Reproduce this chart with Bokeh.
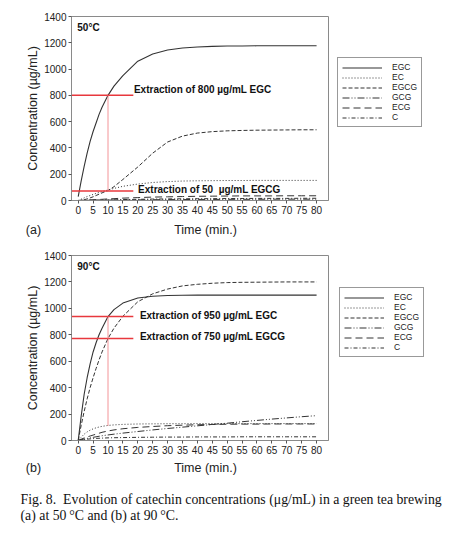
from bokeh.plotting import figure
from bokeh.models import (Range1d, FixedTicker, Legend, LegendItem, Label)
from bokeh.layouts import column, row
from bokeh.embed import file_html
from bokeh.resources import INLINE

# ---------------- data ----------------
T = [0, 1, 2, 3, 4, 5, 6, 7, 8, 10, 12, 15, 20, 25, 30, 35, 40, 45, 50, 55, 60, 65, 70, 75, 80]

# 50 C
EGC_a = [30, 150, 260, 360, 450, 525, 590, 655, 710, 800, 870, 950, 1060, 1115, 1145, 1160, 1168, 1173, 1175, 1176, 1177, 1177, 1177, 1177, 1177]
EC_a = [0, 10, 20, 30, 38, 46, 54, 61, 68, 80, 92, 108, 125, 137, 144, 148, 150, 151, 152, 152, 153, 153, 153, 153, 153]
EGCG_a = [0, 2, 6, 12, 20, 28, 38, 48, 58, 76, 105, 160, 255, 360, 445, 490, 513, 524, 530, 533, 535, 536, 537, 538, 538]
GCG_a = [0, 0, 1, 1, 1, 2, 2, 2, 3, 3, 4, 4, 5, 6, 7, 7, 8, 8, 9, 9, 9, 10, 10, 10, 10]
ECG_a = [0, 1, 2, 3, 5, 6, 7, 8, 9, 12, 14, 18, 22, 26, 28, 30, 32, 33, 34, 35, 35, 35, 36, 36, 36]
C_a = [0, 0, 1, 1, 2, 2, 3, 3, 3, 4, 5, 7, 9, 11, 12, 13, 14, 14, 15, 15, 16, 16, 16, 17, 17]

# 90 C
EGC_b = [0, 185, 350, 475, 580, 670, 740, 800, 850, 938, 990, 1040, 1078, 1092, 1097, 1099, 1100, 1100, 1100, 1100, 1100, 1100, 1100, 1100, 1100]
EC_b = [0, 25, 48, 65, 78, 88, 96, 102, 107, 114, 118, 122, 125, 126, 127, 127, 128, 128, 128, 128, 128, 128, 128, 128, 128]
EGCG_b = [0, 115, 220, 315, 400, 475, 545, 610, 670, 772, 850, 940, 1050, 1110, 1146, 1170, 1182, 1190, 1195, 1197, 1198, 1199, 1200, 1200, 1200]
GCG_b = [0, 6, 11, 16, 20, 24, 28, 32, 36, 42, 48, 56, 68, 80, 91, 101, 111, 121, 131, 142, 152, 162, 171, 180, 188]
ECG_b = [0, 10, 19, 27, 34, 41, 48, 55, 62, 72, 80, 89, 99, 106, 112, 116, 119, 121, 123, 124, 124, 125, 125, 125, 125]
C_b = [0, 4, 7, 10, 12, 14, 16, 17, 18, 20, 21, 22, 24, 25, 26, 26, 27, 27, 27, 28, 28, 28, 28, 28, 28]

series_names = ["EGC", "EC", "EGCG", "GCG", "ECG", "C"]
x_ticks = list(range(0, 81, 5))
y_ticks = list(range(0, 1401, 200))

# extraction markers
extract_time = 10
extract_end = 18.5
levels_a = [800, 72]
labels_a = ["Extraction of 800 \u00b5g/mL EGC", "Extraction of 50\u00a0 \u00b5g/mL EGCG"]
label_x_a = [18.7, 20.1]
label_y_a = [848, 86]
levels_b = [938, 772]
labels_b = ["Extraction of 950 \u00b5g/mL EGC", "Extraction of 750 \u00b5g/mL EGCG"]
label_x_b = [20.7, 20.7]
label_y_b = [948, 784]
vline_a = [72, 800]
vline_b = [110, 938]

caption = ["Fig. 8.\u00a0 Evolution of catechin concentrations (\u03bcg/mL) in a green tea brewing",
           "(a) at 50\u2009\u00b0C and (b) at 90\u2009\u00b0C."]

# ---------------- style ----------------
SANS = "Liberation Sans"
SERIF = "Liberation Serif"
LINE_COLOR = "#333333"
RED = "#e8383d"
dashes = ["solid", "1 2", "4 2", "7 2 1 2 1 2", "7 4", "4 2 1 2"]
widths = [1.1, 1.0, 1.0, 1.0, 1.0, 1.0]
X0, X1 = -2.25, 84.0
MAIN_W = 335
LEG_W = 110
TOTAL_W = 450


def make_panel(height, top, bottom, data, levels, texts, text_xs, text_ys, vline, temp):
    p = figure(width=MAIN_W, height=height, output_backend="svg", toolbar_location=None,
               x_range=Range1d(X0, X1), y_range=Range1d(0, 1400),
               min_border_left=71, min_border_right=MAIN_W - 71 - 257,
               min_border_top=top, min_border_bottom=bottom)
    p.xgrid.visible = False
    p.ygrid.visible = False
    p.outline_line_color = "#8a8a8a"
    p.outline_line_width = 1
    p.background_fill_color = "white"
    p.border_fill_color = "white"

    for ax in (p.xaxis[0], p.yaxis[0]):
        ax.axis_line_color = "#8a8a8a"
        ax.major_tick_line_color = "#555555"
        ax.minor_tick_line_color = None
        ax.major_tick_in = 0
        ax.major_tick_out = 3
        ax.major_label_text_font = SANS
        ax.major_label_text_font_size = "10px"
        ax.major_label_text_color = "#222222"
        ax.axis_label_text_font = SANS
        ax.axis_label_text_font_size = "12.5px"
        ax.axis_label_text_font_style = "normal"
        ax.axis_label_text_color = "#222222"
        ax.major_label_standoff = 2
    p.xaxis.ticker = FixedTicker(ticks=x_ticks)
    p.yaxis.ticker = FixedTicker(ticks=y_ticks)
    p.yaxis.axis_label = "Concentration (\u00b5g/mL)"
    p.yaxis.axis_label_standoff = 1

    for name, ys, dash, w in zip(series_names, data, dashes, widths):
        p.line(T, ys, line_color=LINE_COLOR, line_width=w, line_dash=dash)

    # red extraction guides
    p.segment(x0=[X0] * len(levels), y0=levels, x1=[extract_end] * len(levels), y1=levels,
              line_color=RED, line_width=1.5)
    p.segment(x0=[extract_time], y0=[vline[0]], x1=[extract_time], y1=[vline[1]],
              line_color="#f07a7e", line_width=0.8)

    for txt, tx, ty in zip(texts, text_xs, text_ys):
        p.add_layout(Label(x=tx, y=ty, text=txt, text_font=SANS,
                           text_font_size="10px", text_font_style="bold",
                           text_baseline="middle", text_align="left", text_color="#111111"))
    p.add_layout(Label(x=-0.3, y=1318, text=temp, text_font=SANS, text_font_size="10px",
                       text_font_style="bold", text_baseline="middle", text_align="left",
                       text_color="#111111"))
    return p


def blank(width, height, xr=None, yr=None):
    f = figure(width=width, height=height, output_backend="svg", toolbar_location=None,
               x_range=xr if xr is not None else Range1d(0, width),
               y_range=yr if yr is not None else Range1d(height, 0),
               x_axis_type=None, y_axis_type=None,
               min_border_left=0, min_border_right=0, min_border_top=0, min_border_bottom=0)
    f.xgrid.visible = False
    f.ygrid.visible = False
    f.outline_line_color = None
    f.background_fill_color = "white"
    f.border_fill_color = "white"
    return f


def make_legend_fig(height, vx, vy, data):
    # series are drawn here only to carry legend glyphs; the ranges keep them out of view
    f = blank(LEG_W, height, xr=Range1d(1000, 1100), yr=Range1d(5000, 6000))
    items = []
    for name, ys, dash, w in zip(series_names, data, dashes, widths):
        r = f.line(T, ys, line_color=LINE_COLOR, line_width=w, line_dash=dash)
        items.append(LegendItem(label=name, renderers=[r]))
    leg = Legend(items=items, location=(vx, vy), orientation="vertical")
    leg.label_text_font = SANS
    leg.label_text_font_size = "8.5px"
    leg.label_text_color = "#222222"
    leg.label_height = 9
    leg.glyph_height = 9
    leg.glyph_width = 40
    leg.label_standoff = 10
    leg.label_width = 10
    leg.spacing = 0
    leg.padding = 4
    leg.margin = 0
    leg.border_line_color = "#333333"
    leg.border_line_width = 1
    leg.background_fill_alpha = 1
    f.add_layout(leg)
    return f


def strip(height, panel_tag, y_mid, captions=None):
    f = blank(TOTAL_W, height)
    f.add_layout(Label(x=33, y=y_mid, text=panel_tag, text_font=SANS, text_font_size="12.5px",
                       text_baseline="middle", text_align="center", text_color="#222222"))
    f.add_layout(Label(x=205, y=y_mid, text="Time (min.)", text_font=SANS,
                       text_font_size="12.5px", text_baseline="middle", text_align="center",
                       text_color="#222222"))
    if captions:
        for i, line in enumerate(captions):
            f.add_layout(Label(x=20, y=41 + 16 * i, text=line, text_font=SERIF,
                               text_font_size="13.8px", text_baseline="middle",
                               text_align="left", text_color="#111111"))
    return f


data_a = [EGC_a, EC_a, EGCG_a, GCG_a, ECG_a, C_a]
data_b = [EGC_b, EC_b, EGCG_b, GCG_b, ECG_b, C_b]

pa = make_panel(220, 16, 20, data_a, levels_a, labels_a, label_x_a, label_y_a, vline_a, "50\u00b0C")
la = make_legend_fig(220, 2, 73, data_a)
sa = strip(24, "(a)", 9)

pb = make_panel(214, 11, 18, data_b, levels_b, labels_b, label_x_b, label_y_b, vline_b, "90\u00b0C")
lb = make_legend_fig(214, 4, 83, data_b)
sb = strip(83, "(b)", 9, caption)

layout = column(row(pa, la, spacing=0), sa, row(pb, lb, spacing=0), sb, spacing=0)
open("out.html", "w").write(file_html(layout, INLINE))
